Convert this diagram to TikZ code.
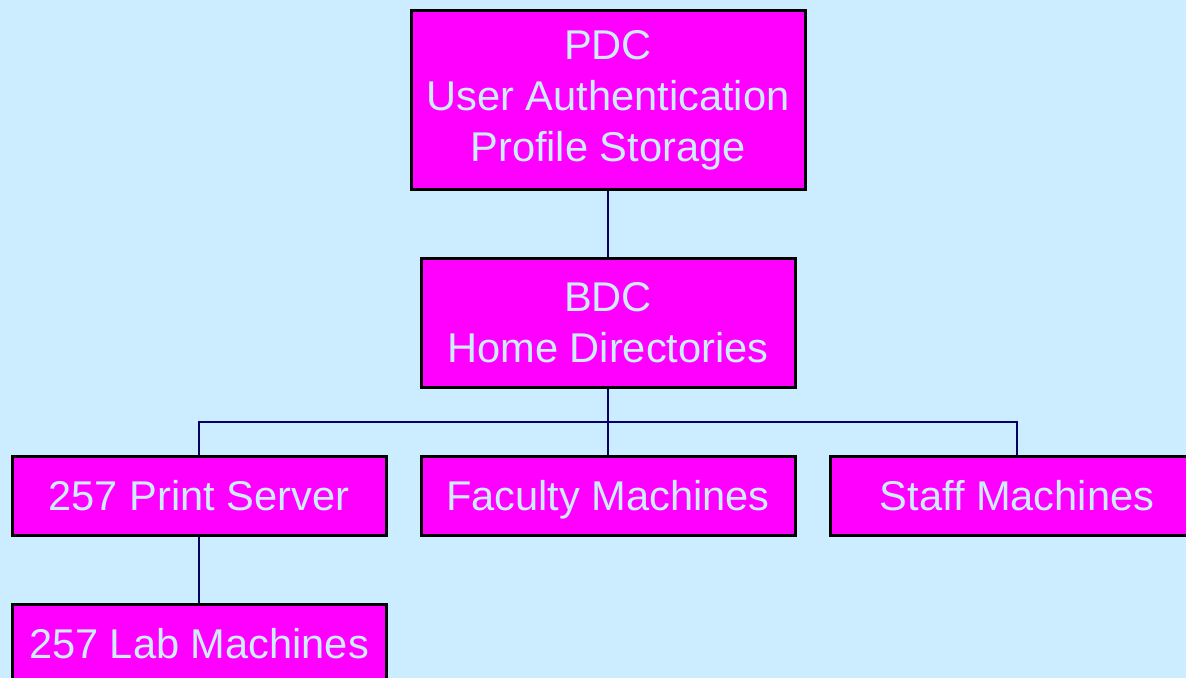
\documentclass[tikz,border=0pt]{standalone}
\usepackage{fontspec}
\setmainfont{Liberation Sans}
\definecolor{bgblue}{HTML}{CCECFF}
\definecolor{boxmag}{HTML}{FF00FF}
\definecolor{linenavy}{HTML}{000066}
\begin{document}
\begin{tikzpicture}[x=0.5pt,y=-0.5pt,
  box/.style={draw=black, line width=1.5pt, fill=boxmag, text=bgblue,
    minimum width=187pt, minimum height=39.5pt, inner sep=0pt, align=center,
    font=\fontsize{20.8}{25.5}\selectfont},
  leaf/.style={box, text height=16pt, text depth=1.5pt},
  link/.style={draw=linenavy, line width=1.4pt}]
\fill[bgblue] (0,0) rectangle (1186,678);
\clip (0,0) rectangle (1186,678);
\node[box, minimum width=197pt, minimum height=89.5pt] (pdc) at (608,100.5) {PDC\\User Authentication\\Profile Storage};
\node[box, minimum height=64pt] (bdc) at (608,323) {BDC\\Home Directories};
\node[leaf] (print) at (199,495.5) {257 Print Server};
\node[leaf] (faculty) at (608,495.5) {Faculty Machines};
\node[leaf] (staff) at (1017,495.5) {Staff Machines};
\node[leaf] (lab) at (199,643.5) {257 Lab Machines};
\coordinate (bus) at (608,422);
\draw[link] (pdc.south) -- (bdc.north);
\draw[link] (bdc.south) -- (bus);
\draw[link] (print.north) |- (bus) -| (staff.north);
\draw[link] (bus) -- (faculty.north);
\draw[link] (print.south) -- (lab.north);
\end{tikzpicture}
\end{document}
